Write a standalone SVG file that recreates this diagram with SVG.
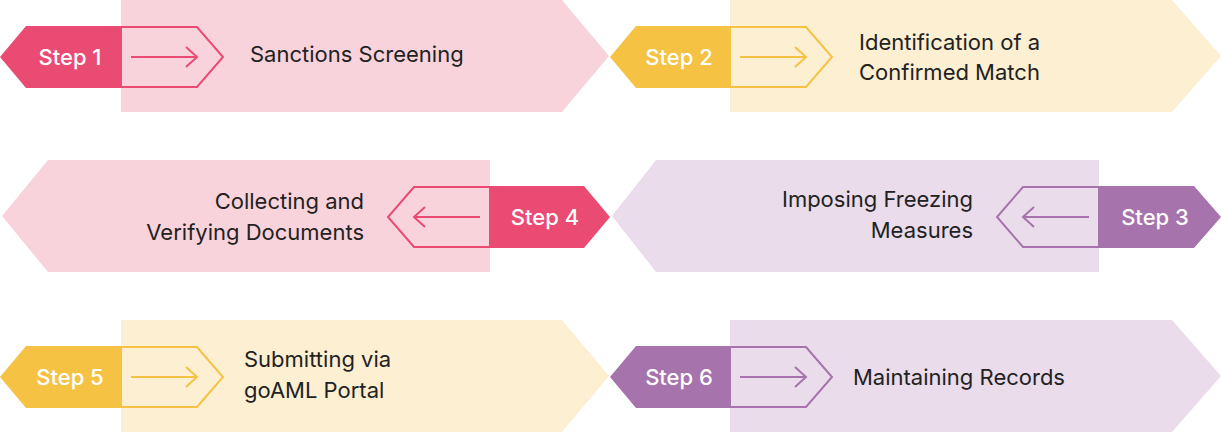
<svg xmlns="http://www.w3.org/2000/svg" width="1221" height="434" viewBox="0 0 1221 434">
<style>
.t{font-family:Inter,"Liberation Sans",sans-serif;font-size:22px;fill:#222}
.s{font-family:Inter,"Liberation Sans",sans-serif;font-size:22px;fill:#fff;font-weight:500}
.o{fill:none;stroke-width:2}
.a{fill:none;stroke-width:2}
</style>
<rect width="1221" height="434" fill="#fff"/>
<g id="step1">
<polygon points="121,0 562,0 609,56 562,112 121,112" fill="#F9D3DC"/>
<polygon points="26,26 121,26 121,88 26,88 0,57" fill="#E94B72"/>
<polygon points="121,27 197,27 223,57 197,87 121,87" class="o" stroke="#E94B72"/>
<path d="M131,57 H197 M186,47 L197,57 L186,67" class="a" stroke="#E94B72"/>
<text x="70" y="65" class="s" text-anchor="middle">Step 1</text>
<text x="250" y="62" class="t">Sanctions Screening</text>
</g>
<g id="step2">
<polygon points="730,0 1172,0 1221,56 1172,112 730,112" fill="#FCEFD2"/>
<polygon points="636,26 730,26 730,88 636,88 610,57" fill="#F6C244"/>
<polygon points="730,27 806,27 832,57 806,87 730,87" class="o" stroke="#F6C244"/>
<path d="M740,57 H806 M795,47 L806,57 L795,67" class="a" stroke="#F6C244"/>
<text x="679" y="65" class="s" text-anchor="middle">Step 2</text>
<text x="859" y="50" class="t">Identification of a</text>
<text x="859" y="80" class="t">Confirmed Match</text>
</g>
<g id="step3">
<polygon points="656,160 1099,160 1099,272 656,272 612,216" fill="#EADCEA"/>
<polygon points="1099,186 1194,186 1221,217 1194,248 1099,248" fill="#A673AD"/>
<polygon points="1099,187 1023,187 997,217 1023,247 1099,247" class="o" stroke="#A673AD"/>
<path d="M1089,217 H1023 M1034,207 L1023,217 L1034,227" class="a" stroke="#A673AD"/>
<text x="1155" y="225" class="s" text-anchor="middle">Step 3</text>
<text x="973" y="207" class="t" text-anchor="end">Imposing Freezing</text>
<text x="973" y="238" class="t" text-anchor="end">Measures</text>
</g>
<g id="step4">
<polygon points="48,160 490,160 490,272 48,272 2,216" fill="#F9D3DC"/>
<polygon points="490,186 584,186 610,217 584,248 490,248" fill="#E94B72"/>
<polygon points="490,187 414,187 388,217 414,247 490,247" class="o" stroke="#E94B72"/>
<path d="M480,217 H414 M425,207 L414,217 L425,227" class="a" stroke="#E94B72"/>
<text x="545" y="225" class="s" text-anchor="middle">Step 4</text>
<text x="364" y="209" class="t" text-anchor="end">Collecting and</text>
<text x="364" y="240" class="t" text-anchor="end">Verifying Documents</text>
</g>
<g id="step5">
<polygon points="121,320 562,320 609,376 562,432 121,432" fill="#FCEFD2"/>
<polygon points="26,346 121,346 121,408 26,408 0,377" fill="#F6C244"/>
<polygon points="121,347 197,347 223,377 197,407 121,407" class="o" stroke="#F6C244"/>
<path d="M131,377 H197 M186,367 L197,377 L186,387" class="a" stroke="#F6C244"/>
<text x="70" y="385" class="s" text-anchor="middle">Step 5</text>
<text x="244" y="367" class="t">Submitting via</text>
<text x="244" y="398" class="t">goAML Portal</text>
</g>
<g id="step6">
<polygon points="730,320 1172,320 1221,376 1172,432 730,432" fill="#EADCEA"/>
<polygon points="636,346 730,346 730,408 636,408 610,377" fill="#A673AD"/>
<polygon points="730,347 806,347 832,377 806,407 730,407" class="o" stroke="#A673AD"/>
<path d="M740,377 H806 M795,367 L806,377 L795,387" class="a" stroke="#A673AD"/>
<text x="679" y="385" class="s" text-anchor="middle">Step 6</text>
<text x="853" y="385" class="t">Maintaining Records</text>
</g>
<g id="connectors"></g>
</svg>
